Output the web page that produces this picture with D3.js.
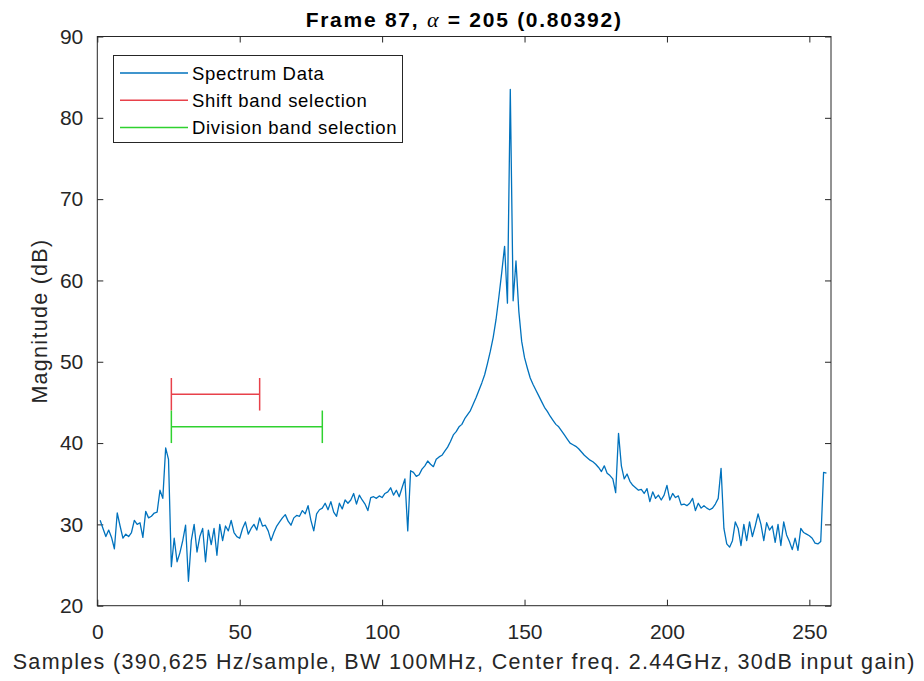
<!DOCTYPE html>
<html><head><meta charset="utf-8">
<script src="https://cdn.jsdelivr.net/npm/d3@7"></script>
<style>body{margin:0;background:#fff;}svg{display:block;font-family:"Liberation Sans",Arial,sans-serif;}</style>
</head><body><svg id="c" width="924" height="681"></svg>
<script>
// spectrum magnitudes (dB) for samples 1..256
const spectrum = [
30.5,29.5,28.5,29.3,28.4,27.0,31.4,29.8,28.3,28.8, // 1-10
28.5,29.0,30.5,30.0,30.2,28.4,31.6,30.8,31.0,31.4, // 11-20
31.5,34.2,33.2,39.4,38.0,24.8,28.3,25.4,26.5,28.0, // 21-30
29.9,23.0,28.0,30.0,26.6,28.5,29.5,25.4,29.3,27.5, // 31-40
29.5,26.2,30.0,28.0,29.8,29.2,30.5,29.0,28.5,28.3, // 41-50
29.5,30.3,28.8,29.5,30.0,29.3,30.8,29.8,29.9,29.2, // 51-60
28.0,29.0,29.8,30.3,30.8,31.2,30.4,29.9,30.8,31.1, // 61-70
31.0,31.7,31.3,32.3,30.5,29.2,31.3,31.8,32.0,32.6, // 71-80
31.8,32.8,31.5,31.0,32.6,31.9,33.0,32.6,33.0,33.8, // 81-90
32.5,33.6,33.0,32.5,31.7,33.3,33.4,33.2,33.5,33.3, // 91-100
33.8,34.0,34.5,33.6,34.2,33.4,34.5,35.6,29.2,36.6, // 101-110
36.4,35.9,36.1,36.8,37.2,37.8,37.4,37.1,38.0,38.3, // 111-120
38.5,39.0,39.5,40.2,41.0,41.4,42.0,42.3,43.0,43.5, // 121-130
44.0,44.8,45.6,46.5,47.4,48.4,49.8,51.3,53.0,55.2, // 131-140
58.0,61.0,64.2,57.2,83.5,57.5,62.4,56.2,52.5,50.5, // 141-150
49.2,48.0,47.2,46.5,45.8,45.1,44.4,43.9,43.3,42.8, // 151-160
42.3,42.0,41.5,41.0,40.5,40.0,39.8,39.6,39.3,38.9, // 161-170
38.5,38.2,37.9,37.7,37.4,37.0,36.5,37.2,36.3,36.0, // 171-180
35.6,33.9,41.2,37.2,35.6,36.2,35.3,34.8,34.5,34.2, // 181-190
34.3,33.8,34.4,32.8,34.0,33.2,33.6,33.0,33.6,34.8, // 191-200
33.0,33.8,33.3,33.5,32.4,32.5,32.3,32.6,33.2,31.7, // 201-210
32.6,32.0,32.3,32.0,31.8,32.0,32.5,33.2,36.9,29.5, // 211-220
27.6,27.2,28.0,30.3,29.5,27.4,30.0,28.0,30.3,28.5, // 221-230
29.8,31.3,30.0,28.0,30.2,29.3,29.8,27.8,30.0,27.4, // 231-240
30.3,28.7,27.9,26.9,28.3,26.8,29.5,29.0,28.8,28.6, // 241-250
28.3,27.7,27.6,27.9,36.4,36.3                      // 251-256
];
const samples = spectrum.map((d,i)=>i+1);
// band selections: [start, end, level, half cap height]
const shiftBand = {start:26, end:57, level:46, cap:2};
const divisionBand = {start:26, end:79, level:42, cap:2};
const xTicks = [0,50,100,150,200,250];
const yTicks = [20,30,40,50,60,70,80,90];
const legendLabels = ["Spectrum Data","Shift band selection","Division band selection"];
const colors = {spec:"#0072BD", shift:"#E8414A", div:"#2FD12F"};

const svg = d3.select("#c");
const L=97.3, R=831, T=36.5, B=605.7;
const x = d3.scaleLinear().domain([0,257.6]).range([L,R]);
const y = d3.scaleLinear().domain([20,90]).range([B,T]);
const axisCol="#262626";

// stretch text horizontally (via letter spacing) to a target width
function fit(sel, target){
  const n = sel.text().length;
  const w = sel.node().getComputedTextLength();
  sel.style("letter-spacing", ((target - w)/n) + "px");
}

const g = svg.append("g");
g.append("rect").attr("x",L).attr("y",T).attr("width",R-L).attr("height",B-T)
 .attr("fill","none").attr("stroke",axisCol).attr("stroke-width",1);

const tl=6;
const xb = g.append("g").attr("transform",`translate(0,${B})`)
 .call(d3.axisBottom(x).tickValues(xTicks).tickSize(-tl).tickPadding(18).tickFormat(d3.format("d")));
const xt = g.append("g").attr("transform",`translate(0,${T})`)
 .call(d3.axisTop(x).tickValues(xTicks).tickSize(-tl).tickFormat(""));
const yl = g.append("g").attr("transform",`translate(${L},0)`)
 .call(d3.axisLeft(y).tickValues(yTicks).tickSize(-tl).tickPadding(14).tickFormat(d3.format("d")));
const yr = g.append("g").attr("transform",`translate(${R},0)`)
 .call(d3.axisRight(y).tickValues(yTicks).tickSize(-tl).tickFormat(""));
[xb,xt,yl,yr].forEach(a=>{
  a.select(".domain").remove();
  a.selectAll("line").attr("stroke",axisCol);
  a.selectAll("text").attr("fill",axisCol).style("font-size","21px").style("font-family","Liberation Sans, Arial, sans-serif");
});

// spectrum line
const line = d3.line().x((d,i)=>x(samples[i])).y(d=>y(d));
svg.append("path").datum(spectrum).attr("d",line).attr("fill","none")
 .attr("stroke",colors.spec).attr("stroke-width",1.3).attr("stroke-linejoin","round");

// band selections
function band(b,col){
  const gg = svg.append("g").attr("stroke",col).attr("stroke-width",1.5).attr("fill","none");
  gg.append("line").attr("x1",x(b.start)).attr("x2",x(b.end)).attr("y1",y(b.level)).attr("y2",y(b.level));
  [b.start,b.end].forEach(v=>gg.append("line").attr("x1",x(v)).attr("x2",x(v))
    .attr("y1",y(b.level-b.cap)).attr("y2",y(b.level+b.cap)));
}
band(shiftBand,colors.shift);
band(divisionBand,colors.div);

// legend
const lg = svg.append("g");
lg.append("rect").attr("x",113.5).attr("y",55.5).attr("width",289).attr("height",87)
 .attr("fill","#fff").attr("stroke",axisCol).attr("stroke-width",1);
const lc=[colors.spec,colors.shift,colors.div];
legendLabels.forEach((t,i)=>{
  const yy = 73 + i*27.3;
  lg.append("line").attr("x1",120).attr("x2",188).attr("y1",yy).attr("y2",yy).attr("stroke",lc[i]).attr("stroke-width",1.5);
  lg.append("text").attr("x",192).attr("y",yy).attr("dy","0.36em").text(t)
   .attr("fill","#000").style("font-size","18.5px").style("letter-spacing","0.7px");
});

// title
const title = svg.append("text").attr("x",(L+R)/2).attr("y",27).attr("text-anchor","middle")
 .style("font-size","21px").style("font-weight","bold").attr("fill","#000");
title.append("tspan").text("Frame 87, ");
title.append("tspan").text("α").style("font-family","Liberation Serif, Times New Roman, serif").style("font-style","italic").style("font-weight","normal").style("font-size","22px");
title.append("tspan").text(" = 205 (0.80392)");
fit(title, 317);

// axis labels
const xl = svg.append("text").attr("x",(L+R)/2).attr("y",669).attr("text-anchor","middle")
 .style("font-size","21.5px").attr("fill",axisCol)
 .text("Samples (390,625 Hz/sample, BW 100MHz, Center freq. 2.44GHz, 30dB input gain)");
fit(xl, 903);
const ylab = svg.append("text").attr("transform",`translate(47,${(T+B)/2}) rotate(-90)`).attr("text-anchor","middle")
 .style("font-size","21.5px").attr("fill",axisCol).text("Magnitude (dB)");
fit(ylab, 165);
</script></body></html>
